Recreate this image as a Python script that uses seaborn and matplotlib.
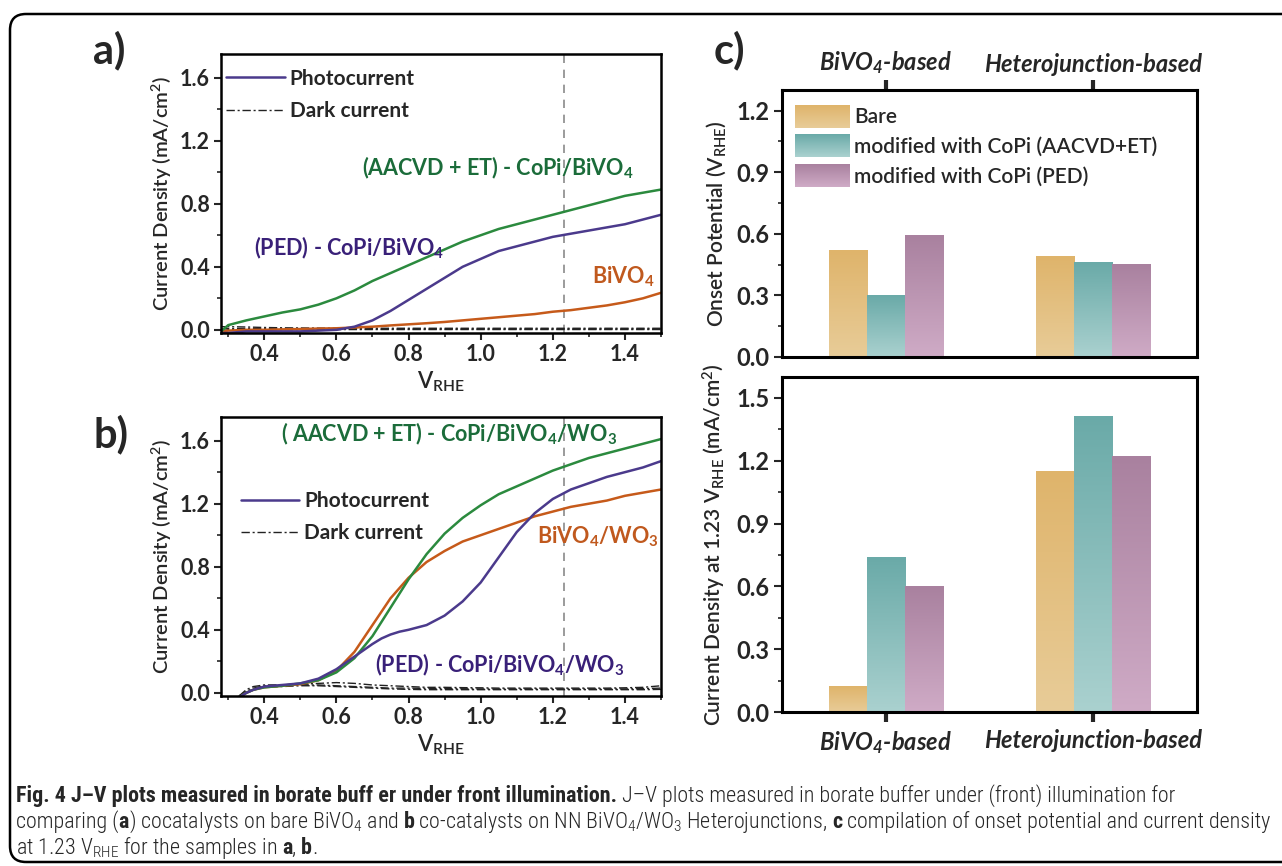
import numpy as np
import pandas as pd
import seaborn as sns
import matplotlib
matplotlib.use("Agg")
import matplotlib.pyplot as plt
from matplotlib.patches import FancyBboxPatch, Patch
from matplotlib.lines import Line2D
from matplotlib.ticker import MultipleLocator
from matplotlib.transforms import IdentityTransform, Bbox, TransformedBbox
from matplotlib.legend_handler import HandlerBase
from matplotlib.image import BboxImage

# ---------------- data: panel a (bare BiVO4) ----------------
V_A = [0.28, 0.30, 0.35, 0.40, 0.45, 0.50, 0.55, 0.60, 0.65, 0.70, 0.75, 0.80, 0.85,
       0.90, 0.95, 1.00, 1.05, 1.10, 1.15, 1.20, 1.25, 1.30, 1.35, 1.40, 1.45, 1.50]
A_AACVD = [-0.01, 0.03, 0.06, 0.085, 0.11, 0.13, 0.16, 0.20, 0.25, 0.31, 0.36, 0.41, 0.46,
           0.51, 0.56, 0.60, 0.64, 0.67, 0.70, 0.73, 0.76, 0.79, 0.82, 0.85, 0.87, 0.89]
A_PED = [-0.02, -0.02, -0.01, -0.01, -0.01, -0.01, -0.005, 0.0, 0.02, 0.06, 0.12, 0.19, 0.26,
         0.33, 0.40, 0.45, 0.50, 0.53, 0.56, 0.59, 0.61, 0.63, 0.65, 0.67, 0.70, 0.73]
A_BARE = [-0.01, -0.005, 0.0, 0.0, 0.003, 0.005, 0.008, 0.01, 0.015, 0.02, 0.028, 0.035, 0.042,
          0.05, 0.06, 0.07, 0.08, 0.09, 0.10, 0.115, 0.125, 0.14, 0.155, 0.175, 0.20, 0.235]
A_DARK1 = [0.02, 0.02, 0.018, 0.015, 0.013, 0.012, 0.011, 0.01, 0.01, 0.01, 0.01, 0.01, 0.01,
           0.01, 0.01, 0.01, 0.01, 0.01, 0.01, 0.01, 0.01, 0.01, 0.01, 0.01, 0.01, 0.01]
A_DARK2 = [0.005, 0.008, 0.008, 0.007, 0.006, 0.005, 0.005, 0.005, 0.005, 0.005, 0.005, 0.005, 0.005,
           0.005, 0.005, 0.005, 0.005, 0.005, 0.005, 0.005, 0.005, 0.005, 0.005, 0.005, 0.005, 0.005]
A_DARK3 = [-0.01, 0.0, 0.002, 0.002, 0.002, 0.002, 0.002, 0.002, 0.002, 0.002, 0.002, 0.002, 0.002,
           0.002, 0.002, 0.002, 0.002, 0.002, 0.002, 0.002, 0.002, 0.002, 0.002, 0.002, 0.002, 0.002]

# ---------------- data: panel b (BiVO4/WO3 heterojunction) ----------------
V_B = [0.33, 0.35, 0.37, 0.40, 0.45, 0.50, 0.55, 0.60, 0.65, 0.70, 0.75, 0.80, 0.85,
       0.90, 0.95, 1.00, 1.05, 1.10, 1.15, 1.20, 1.25, 1.30, 1.35, 1.40, 1.45, 1.50]
B_AACVD = [-0.03, 0.0, 0.02, 0.035, 0.045, 0.06, 0.08, 0.13, 0.22, 0.36, 0.54, 0.72, 0.88,
           1.01, 1.11, 1.19, 1.26, 1.31, 1.36, 1.41, 1.45, 1.49, 1.52, 1.55, 1.58, 1.61]
B_BARE = [-0.03, 0.0, 0.02, 0.035, 0.045, 0.055, 0.08, 0.14, 0.26, 0.43, 0.60, 0.73, 0.83,
          0.90, 0.96, 1.00, 1.04, 1.08, 1.12, 1.15, 1.18, 1.20, 1.22, 1.25, 1.27, 1.29]
V_B_PED = [0.33, 0.35, 0.37, 0.40, 0.45, 0.50, 0.55, 0.60, 0.65, 0.70, 0.725, 0.75, 0.775,
           0.80, 0.85, 0.90, 0.95, 1.00, 1.05, 1.10, 1.15, 1.20, 1.25, 1.30, 1.35, 1.40,
           1.45, 1.50]
B_PED = [-0.03, 0.0, 0.02, 0.04, 0.05, 0.06, 0.09, 0.15, 0.23, 0.31, 0.345, 0.37, 0.388,
         0.40, 0.43, 0.49, 0.58, 0.70, 0.86, 1.02, 1.14, 1.23, 1.29, 1.33, 1.37, 1.40,
         1.43, 1.47]
B_DARK1 = [-0.02, 0.02, 0.04, 0.05, 0.05, 0.055, 0.06, 0.065, 0.06, 0.05, 0.045, 0.04, 0.035,
           0.035, 0.033, 0.032, 0.03, 0.03, 0.03, 0.03, 0.03, 0.03, 0.03, 0.032, 0.035, 0.045]
B_DARK2 = [-0.02, 0.01, 0.03, 0.045, 0.05, 0.05, 0.05, 0.045, 0.04, 0.035, 0.03, 0.03, 0.028,
           0.027, 0.026, 0.025, 0.025, 0.025, 0.025, 0.025, 0.025, 0.025, 0.025, 0.025, 0.027, 0.03]
B_DARK3 = [-0.02, 0.0, 0.02, 0.035, 0.04, 0.045, 0.045, 0.04, 0.035, 0.03, 0.025, 0.022, 0.02,
           0.02, 0.02, 0.02, 0.02, 0.02, 0.02, 0.02, 0.02, 0.02, 0.02, 0.02, 0.02, 0.022]

# ---------------- data: panel c ----------------
GROUPS = ["BiVO$_4$-based", "Heterojunction-based"]
SERIES = ["Bare", "modified with CoPi (AACVD+ET)", "modified with CoPi (PED)"]
ONSET_BARE = [0.52, 0.49]
ONSET_AACVD = [0.30, 0.46]
ONSET_PED = [0.59, 0.45]
J123_BARE = [0.12, 1.15]
J123_AACVD = [0.74, 1.41]
J123_PED = [0.60, 1.22]

# ---------------- style ----------------
sns.set_theme(style="white")
plt.rcParams["font.family"] = ["Lato", "DejaVu Sans"]
plt.rcParams["mathtext.default"] = "regular"
plt.rcParams["axes.linewidth"] = 1.8

GREEN, GREEN_T = "#2b8a3e", "#1b6c3a"
PURPLE, PURPLE_T = "#4b3a8c", "#392078"
ORANGE, ORANGE_T = "#c65a1a", "#c0591e"
TOP_COLS = ["#dfb46b", "#6aaaa8", "#a9819f"]
BOT_COLS = ["#e8cc98", "#aad1cf", "#cfabc6"]
MID_COLS = ["#e3c082", "#89bebc", "#bc96b3"]
DARK_LS = (0, (6, 2, 1.5, 2))

W, H = 1282, 866
fig = plt.figure(figsize=(W / 100, H / 100), dpi=100)


def ax_px(left, top, right, bottom):
    return fig.add_axes([left / W, 1 - bottom / H, (right - left) / W, (bottom - top) / H])


def style_jv(ax):
    ax.set_xlim(0.28, 1.5)
    ax.set_ylim(-0.02, 1.75)
    ax.xaxis.set_major_locator(MultipleLocator(0.2))
    ax.xaxis.set_minor_locator(MultipleLocator(0.1))
    ax.yaxis.set_major_locator(MultipleLocator(0.4))
    ax.yaxis.set_minor_locator(MultipleLocator(0.2))
    ax.tick_params(which="major", direction="out", length=5, width=1.5, labelsize=15.5, pad=3,
                   bottom=True, left=True)
    ax.tick_params(which="minor", direction="out", length=3, width=1.2, bottom=True, left=True)
    for lab in ax.get_xticklabels() + ax.get_yticklabels():
        lab.set_fontweight("bold")
    for s in ax.spines.values():
        s.set_linewidth(1.8)
        s.set_color("black")
    ax.set_xlabel("V$_{RHE}$", fontsize=16, fontweight="semibold", labelpad=3)
    ax.set_ylabel("Current Density (mA/cm$^2$)", fontsize=14.5, fontweight="semibold", labelpad=4)
    ax.axvline(1.23, color="#8a8a8a", lw=1.2, ls=(0, (5, 4)), zorder=0)


def draw_line(ax, x, y, color, dark=False):
    sns.lineplot(x=x, y=y, ax=ax, color=color, lw=1.0 if dark else 1.8, sort=False,
                 estimator=None)
    line = ax.lines[-1]
    line.set_solid_joinstyle("round")
    if dark:
        line.set_linestyle(DARK_LS)


ANN = dict(fontsize=15.5, fontweight="bold", ha="center", va="center")
LEG = dict(loc="upper left", frameon=False, prop={"size": 15, "weight": "bold"},
           handlelength=2.8, handletextpad=0.25, labelspacing=0.6, borderpad=0,
           borderaxespad=0)

# ---------------- panel a ----------------
ax_a = ax_px(221, 54, 661, 333)
for d in (A_DARK1, A_DARK2, A_DARK3):
    draw_line(ax_a, V_A, d, "#222222", dark=True)
draw_line(ax_a, V_A, A_BARE, ORANGE)
draw_line(ax_a, V_A, A_PED, PURPLE)
draw_line(ax_a, V_A, A_AACVD, GREEN)
style_jv(ax_a)
ax_a.text(1.047, 1.03, "(AACVD + ET) - CoPi/BiVO$_4$", color=GREEN_T, **ANN)
ax_a.text(0.634, 0.52, "(PED) - CoPi/BiVO$_4$", color=PURPLE_T, **ANN)
ax_a.text(1.395, 0.336, "BiVO$_4$", color=ORANGE_T, **ANN)

leg_handles = [Line2D([], [], color=PURPLE, lw=1.8),
               Line2D([], [], color="#222222", lw=1.0, ls=DARK_LS)]
leg_labels = ["Photocurrent", "Dark current"]
ax_a.legend(leg_handles, leg_labels, bbox_to_anchor=(0.012, 0.948), **LEG)

# ---------------- panel b ----------------
ax_b = ax_px(221, 417, 661, 696)
for d in (B_DARK1, B_DARK2, B_DARK3):
    draw_line(ax_b, V_B, d, "#222222", dark=True)
draw_line(ax_b, V_B, B_BARE, ORANGE)
draw_line(ax_b, V_B, B_AACVD, GREEN)
draw_line(ax_b, V_B_PED, B_PED, PURPLE)
style_jv(ax_b)
ax_b.text(0.911, 1.644, "( AACVD + ET) - CoPi/BiVO$_4$/WO$_3$", color=GREEN_T, **ANN)
ax_b.text(1.325, 0.988, "BiVO$_4$/WO$_3$", color=ORANGE_T, **ANN)
ax_b.text(1.054, 0.178, "(PED) - CoPi/BiVO$_4$/WO$_3$", color=PURPLE_T, **ANN)
ax_b.legend(leg_handles, leg_labels, bbox_to_anchor=(0.045, 0.735), **LEG)


# ---------------- panel c ----------------
def bar_frame(values_list):
    rows = []
    for s, vals in zip(SERIES, values_list):
        for g, v in zip(GROUPS, vals):
            rows.append({"group": g, "series": s, "value": v})
    return pd.DataFrame(rows)


def gradient_bars(ax, ylim):
    pal = [matplotlib.colors.to_rgb(c) for c in MID_COLS]
    for p in list(ax.patches):
        h = p.get_height()
        if h <= 0:
            continue
        fc = p.get_facecolor()[:3]
        idx = int(np.argmin([np.sum((np.array(fc) - np.array(c)) ** 2) for c in pal]))
        top = np.array(matplotlib.colors.to_rgb(TOP_COLS[idx]))
        bot = np.array(matplotlib.colors.to_rgb(BOT_COLS[idx]))
        t = np.linspace(0, 1, 128)[:, None]
        img = (top[None, :] * (1 - t) + bot[None, :] * t)[:, None, :]
        x0 = p.get_x()
        ax.imshow(img, extent=(x0, x0 + p.get_width(), 0, h), origin="upper",
                  aspect="auto", interpolation="bilinear", zorder=p.get_zorder() + 0.1)
    ax.set_xlim(-0.5, 1.5)
    ax.set_ylim(*ylim)


def style_bar_ax(ax, ylabel, top):
    ax.yaxis.set_major_locator(MultipleLocator(0.3))
    ax.yaxis.set_minor_locator(MultipleLocator(0.15))
    ax.tick_params(axis="y", which="major", direction="out", length=6, width=1.5,
                   labelsize=17, left=True, pad=3)
    ax.tick_params(axis="y", which="minor", direction="out", length=3, width=1.2, left=True)
    for lab in ax.get_yticklabels():
        lab.set_fontweight("bold")
    if top:
        ax.xaxis.set_ticks_position("top")
        ax.tick_params(axis="x", which="major", direction="out", length=7, width=3,
                       top=True, bottom=False, labeltop=True, labelbottom=False, pad=3)
    else:
        ax.tick_params(axis="x", which="major", direction="out", length=7, width=3,
                       bottom=True, top=False, pad=5)
    ax.tick_params(axis="x", which="minor", bottom=False, top=False)
    ax.set_xticks([0, 1])
    ax.set_xticklabels(GROUPS, fontsize=17, fontweight="bold", fontstyle="italic")
    ax.set_xlabel("")
    ax.set_ylabel(ylabel, fontsize=15, fontweight="semibold", labelpad=6)
    for s in ax.spines.values():
        s.set_linewidth(2.2)
        s.set_color("black")


ax_c1 = ax_px(782, 90, 1197, 357)
sns.barplot(data=bar_frame([ONSET_BARE, ONSET_AACVD, ONSET_PED]), x="group", y="value",
            hue="series", hue_order=SERIES, order=GROUPS, palette=MID_COLS, width=0.55, gap=0,
            saturation=1, legend=False, ax=ax_c1, edgecolor="none")
gradient_bars(ax_c1, (0, 1.3))
style_bar_ax(ax_c1, "Onset Potential (V$_{RHE}$)", top=True)

ax_c2 = ax_px(782, 377, 1197, 712)
sns.barplot(data=bar_frame([J123_BARE, J123_AACVD, J123_PED]), x="group", y="value",
            hue="series", hue_order=SERIES, order=GROUPS, palette=MID_COLS, width=0.55, gap=0,
            saturation=1, legend=False, ax=ax_c2, edgecolor="none")
gradient_bars(ax_c2, (0, 1.6))
style_bar_ax(ax_c2, "Current Density at 1.23 V$_{RHE}$ (mA/cm$^2$)", top=False)


class GradHandler(HandlerBase):
    def __init__(self, top, bot):
        super().__init__()
        self.top = np.array(matplotlib.colors.to_rgb(top))
        self.bot = np.array(matplotlib.colors.to_rgb(bot))

    def create_artists(self, legend, orig_handle, xdescent, ydescent, width, height,
                       fontsize, trans):
        t = np.linspace(0, 1, 64)[:, None]
        img = (self.top[None, :] * (1 - t) + self.bot[None, :] * t)[:, None, :]
        bb = TransformedBbox(Bbox.from_bounds(-xdescent, -ydescent, width, height), trans)
        im = BboxImage(bb, interpolation="bilinear", origin="upper")
        im.set_data(img)
        return [im]


bar_handles = [Patch(facecolor=c) for c in MID_COLS]
ax_c1.legend(bar_handles, SERIES, loc="upper left", bbox_to_anchor=(0.031, 0.944),
             frameon=False, prop={"size": 15, "weight": "semibold"}, handlelength=2.6,
             handleheight=1.3, handletextpad=0.25, labelspacing=0.33, borderpad=0,
             borderaxespad=0,
             handler_map={h: GradHandler(TOP_COLS[i], BOT_COLS[i]) for i, h in enumerate(bar_handles)})

# ---------------- panel letters ----------------
for lbl, x, y in (("a)", 93, 63), ("b)", 93, 447), ("c)", 714, 63)):
    fig.text(x / W, 1 - y / H, lbl, fontsize=30, fontweight="bold", ha="left", va="baseline")

# ---------------- frame ----------------
frame = FancyBboxPatch((10, 4), 1300, H - 4 - 14, boxstyle="round,pad=0,rounding_size=16",
                       transform=IdentityTransform(), fill=False, lw=1.8, edgecolor="black")
fig.patches.append(frame)

# ---------------- caption ----------------
CAP_FAMILY = ["Liberation Sans Narrow", "Roboto Condensed", "Open Sans Condensed", "Lato",
              "DejaVu Sans"]
CAP_REG = "light"
renderer = fig.canvas.get_renderer()


def text_width(s, weight, size):
    t1 = fig.text(0, 0, "|" + s + "|", fontsize=size, fontweight=weight, family=CAP_FAMILY,
                  fontstretch="condensed", transform=IdentityTransform())
    t2 = fig.text(0, 0, "||", fontsize=size, fontweight=weight, family=CAP_FAMILY,
                  fontstretch="condensed", transform=IdentityTransform())
    w = t1.get_window_extent(renderer).width - t2.get_window_extent(renderer).width
    t1.remove()
    t2.remove()
    return w


CAPTION = [
    [("Fig. 4 J–V plots measured in borate buff er under front illumination.", "bold"),
     (" J–V plots measured in borate buffer under (front) illumination for", CAP_REG)],
    [("comparing (", CAP_REG), ("a", "bold"), (") cocatalysts on bare BiVO$_4$ and ", CAP_REG),
     ("b", "bold"), (" co-catalysts on NN BiVO$_4$/WO$_3$ Heterojunctions, ", CAP_REG),
     ("c", "bold"), (" compilation of onset potential and current density", CAP_REG)],
    [("at 1.23 V$_{RHE}$ for the samples in ", CAP_REG), ("a", "bold"), (", ", CAP_REG),
     ("b", "bold"), (".", CAP_REG)],
]

# fit the longest caption line between the frame's inner edges
ref_w = sum(text_width(s, w, 10) for s, w in CAPTION[1])
CAP_SIZE = min(17, 10 * 1260 / ref_w)


def rich_line(x, y_top, segments):
    y = H - y_top
    for s, weight in segments:
        fig.text(x, y, s, fontsize=CAP_SIZE, fontweight=weight, family=CAP_FAMILY,
                 fontstretch="condensed", ha="left", va="baseline",
                 transform=IdentityTransform())
        x += text_width(s, weight, CAP_SIZE)


for i, segs in enumerate(CAPTION):
    rich_line(16, 802 + 26 * i, segs)

fig.savefig("out.png", dpi=100, facecolor="white")
